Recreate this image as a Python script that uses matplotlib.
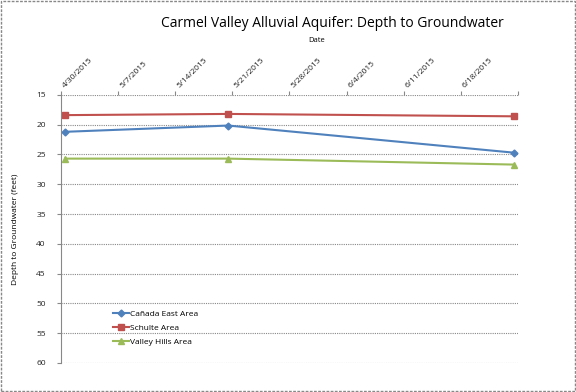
import datetime as dt
import matplotlib
matplotlib.use("Agg")
import matplotlib.pyplot as plt
import matplotlib.dates as mdates
import matplotlib.transforms as mtransforms
from matplotlib.patches import Rectangle

plt.rcParams['font.family'] = ['Open Sans', 'DejaVu Sans']

dates = [dt.date(2015, 4, 30), dt.date(2015, 5, 20), dt.date(2015, 6, 24)]
canada_east = [21.2, 20.15, 24.7]
schulte = [18.4, 18.2, 18.6]
valley_hills = [25.7, 25.7, 26.7]
series_names = ['Cañada East Area', 'Schulte Area', 'Valley Hills Area']

# Excel plots date points in the middle of the day ("between tick marks")
x = [dt.datetime.combine(d, dt.time(12)) for d in dates]

fig = plt.figure(figsize=(5.76, 3.92), dpi=100)
ax = fig.add_axes([0.106, 0.074, 0.793, 0.684])

ax.plot(x, canada_east, color='#4F81BD', marker='D', markersize=3.5, lw=1.5, label=series_names[0])
ax.plot(x, schulte, color='#C0504D', marker='s', markersize=4.5, lw=1.5, label=series_names[1])
ax.plot(x, valley_hills, color='#9BBB59', marker='^', markersize=5, lw=1.5, label=series_names[2])

ax.set_ylim(60, 15)
ax.set_yticks(range(15, 61, 5))
ax.set_xlim(dt.date(2015, 4, 30), dt.date(2015, 6, 25))
ax.set_xticks([dt.date(2015, 4, 30) + dt.timedelta(days=7 * i) for i in range(9)])
ax.xaxis.set_major_formatter(plt.FuncFormatter(
    lambda v, p: '' if p == 8 else '{d.month}/{d.day}/{d.year}'.format(d=mdates.num2date(v))))
ax.xaxis.tick_top()
ax.xaxis.set_label_position('top')
ax.tick_params(axis='x', labelsize=6, length=3, direction='out', color='#888888', pad=3, labelcolor='#222222')
ax.tick_params(axis='y', labelsize=6, length=3, color='#888888', pad=8, labelcolor='#222222')
shift = mtransforms.ScaledTranslation(3 / 100, 0, fig.dpi_scale_trans)
for lbl in ax.get_xticklabels():
    lbl.set_rotation(45)
    lbl.set_ha('left')
    lbl.set_va('center')
    lbl.set_rotation_mode('anchor')
    lbl.set_transform(lbl.get_transform() + shift)

ax.grid(axis='y', color='#888888', linestyle=(0, (1, 1)), linewidth=0.8)
for s in ['top', 'right', 'bottom']:
    ax.spines[s].set_visible(False)
ax.spines['left'].set_color('#888888')
ax.spines['left'].set_linewidth(0.8)

ax.set_ylabel('Depth to Groundwater (feet)', fontsize=6, labelpad=12)

fig.text(0.577, 0.94, 'Carmel Valley Alluvial Aquifer: Depth to Groundwater', ha='center', va='center', fontsize=10)
fig.text(0.549, 0.897, 'Date', ha='center', va='center', fontsize=5.5)

ax.legend(loc='upper left', bbox_to_anchor=(0.19, 0.217), bbox_transform=fig.transFigure,
          frameon=False, fontsize=6, handlelength=2.0, handletextpad=0.1, labelspacing=0.75,
          borderaxespad=0)

fig.patches.append(Rectangle((0.002, 0.003), 0.996, 0.994, transform=fig.transFigure, fill=False,
                             edgecolor='#888888', linestyle=(0, (2, 1)), linewidth=1))

fig.savefig('out.png', dpi=100)
